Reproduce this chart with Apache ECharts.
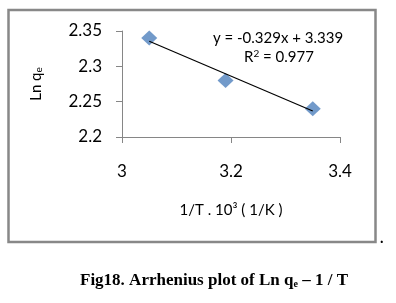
<!DOCTYPE html>
<html><head><meta charset="utf-8">
<script src="https://cdn.jsdelivr.net/npm/echarts@6/dist/echarts.min.js"></script>
<style>html,body{margin:0;padding:0;background:#fff}#c{width:396px;height:303px}</style>
</head><body><div id="c"></div>
<script>
const xValues = [3.05, 3.19, 3.35];
const yValues = [2.34, 2.28, 2.24];
const trendSlope = -0.329;
const trendIntercept = 3.339;
const trendR2 = 0.977;
const xTicks = [3, 3.2, 3.4];
const yTicks = [2.2, 2.25, 2.3, 2.35];

const pts = xValues.map((x, i) => [x, yValues[i]]);
const xMinD = Math.min(...xValues), xMaxD = Math.max(...xValues);
const trend = [xMinD, xMaxD].map(x => [x, trendSlope * x + trendIntercept]);

const chart = echarts.init(document.getElementById('c'), null, {renderer: 'canvas'});
const labelFont = 'Lato, "Open Sans", sans-serif';
chart.setOption({
  animation: false,
  grid: {left: 122, right: 56, top: 31, bottom: 166},
  xAxis: {
    type: 'value', min: xTicks[0], max: xTicks[xTicks.length - 1], interval: 0.2,
    axisLine: {show: true, lineStyle: {color: '#868686', width: 1}},
    axisTick: {show: true, length: 6, lineStyle: {color: '#868686'}},
    splitLine: {show: false},
    axisLabel: {color: '#000', fontSize: 17, fontFamily: labelFont, margin: 26},
    name: '1/T . 10³ ( 1/K )', nameLocation: 'middle', nameGap: 66,
    nameTextStyle: {color: '#000', fontSize: 15, fontFamily: labelFont}
  },
  yAxis: {
    type: 'value', min: yTicks[0], max: yTicks[yTicks.length - 1], interval: 0.05,
    axisLine: {show: true, lineStyle: {color: '#868686', width: 1}},
    axisTick: {show: true, length: 6, lineStyle: {color: '#868686'}},
    splitLine: {show: false},
    axisLabel: {color: '#000', fontSize: 17, fontFamily: labelFont, margin: 20},
    name: '{a|Ln q}{s|e}', nameLocation: 'middle', nameRotate: 90, nameGap: 78,
    nameTextStyle: {
      rich: {
        a: {color: '#000', fontSize: 15, fontFamily: labelFont},
        s: {color: '#000', fontSize: 10, fontFamily: labelFont, padding: [6, 0, 0, 0]}
      }
    }
  },
  series: [
    {
      type: 'line', data: trend, symbol: 'none', silent: true,
      lineStyle: {color: '#000', width: 1.2}, z: 3
    },
    {
      type: 'scatter', data: pts, symbol: 'diamond', symbolSize: [16, 15],
      itemStyle: {color: '#4F81BD'}, z: 2
    }
  ],
  graphic: [
    {type: 'rect', shape: {x: 8.5, y: 10, width: 367, height: 232},
     style: {fill: 'none', stroke: '#888', lineWidth: 2.5}, z: -1},
    {type: 'text', left: 380, top: 232,
     style: {text: '.', fill: '#000', font: 'bold 14px "Liberation Serif"'}},
    {type: 'text', x: 278, y: 38,
     style: {text: 'y = ' + trendSlope + 'x + ' + trendIntercept, fill: '#000', font: '15px ' + labelFont,
             textAlign: 'center', textVerticalAlign: 'middle'}},
    {type: 'text', x: 279, y: 57,
     style: {rich: {a: {fontSize: 15, fontFamily: labelFont, fill: '#000'},
                    s: {fontSize: 10, fontFamily: labelFont, fill: '#000', padding: [0,0,6,0]}},
             text: '{a|R}{s|2}{a| = ' + trendR2.toFixed(3) + '}',
             textAlign: 'center', textVerticalAlign: 'middle'}},
    {type: 'text', x: 214, y: 281,
     style: {rich: {a: {fontSize: 17, fontFamily: '"Liberation Serif", serif', fontWeight: 'bold', fill: '#000'},
                    s: {fontSize: 10, fontFamily: '"Liberation Serif", serif', fontWeight: 'bold', fill: '#000', padding: [7,0,0,0]}},
             text: '{a|Fig18. Arrhenius plot of Ln q}{s|e}{a| – 1 / T}',
             textAlign: 'center', textVerticalAlign: 'middle'}}
  ]
});
</script></body></html>
